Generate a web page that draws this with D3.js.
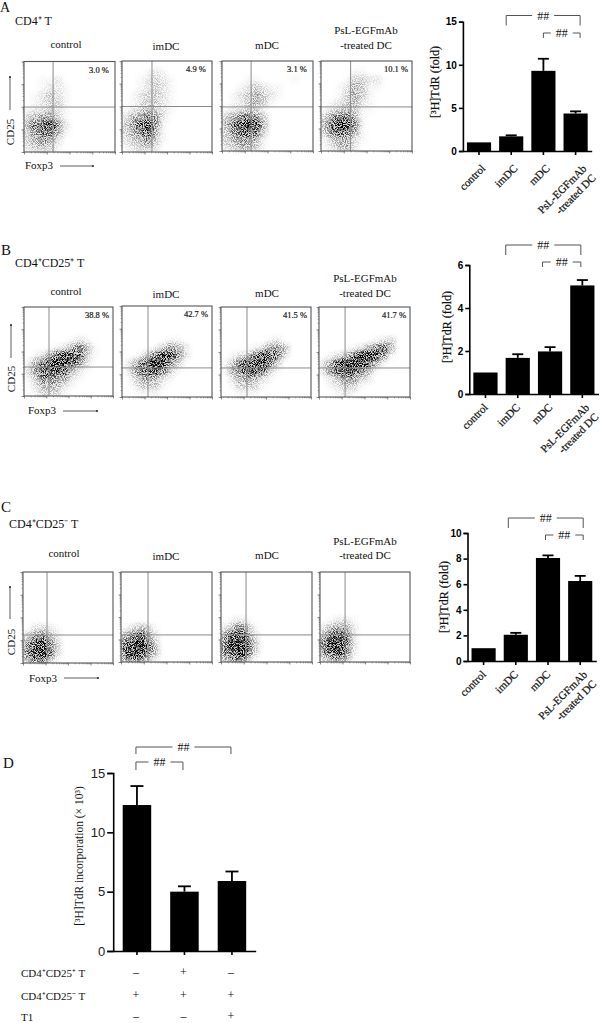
<!DOCTYPE html>
<html lang="en">

<head>
    <meta charset="UTF-8">
    <title>CD4 T cell flow plots and proliferation</title>
    <style>
        body {
            margin: 0;
            background: #fff;
        }

        text {
            font-family: "Liberation Serif", serif;
            fill: #111;
        }

        .bar-axis path,
        .bar-axis line {
            stroke: #000;
            stroke-width: 1.6px;
        }

        .bar-axis text {
            font-family: "Liberation Sans", sans-serif;
            font-weight: bold;
            font-size: 10px;
            fill: #000;
        }

        .bar-axis-x text {
            font-family: "Liberation Serif", serif;
            font-weight: normal;
            font-size: 11px;
            fill: #111;
            stroke: #111;
            stroke-width: 0.2px;
        }

        .big-axis text {
            font-weight: normal;
            font-size: 13px;
            fill: #222;
        }

        .flow-axis path {
            display: none;
        }

        .flow-axis line {
            stroke: #666;
            stroke-width: 0.7px;
        }

        .bracket {
            fill: none;
            stroke: #555;
            stroke-width: 1px;
        }
    </style>
</head>

<body>
    <svg id="chart" width="600" height="1023"></svg>
    <script src="https://d3js.org/d3.v7.min.js"></script>
    <script>
        // bar chart values
        const dcGroups = ["control", "imDC", "mDC", "PsL"];
        const aMeans = [1.0, 1.7, 9.3, 4.35];
        const aTops = [1.0, 1.82, 10.7, 4.6];
        const bMeans = [1.0, 1.68, 1.98, 5.05];
        const bTops = [1.0, 1.85, 2.18, 5.3];
        const cMeans = [1.0, 2.05, 8.05, 6.25];
        const cTops = [1.0, 2.2, 8.25, 6.65];
        const dGroups = ["first", "second", "third"];
        const dMeans = [12.3, 5.0, 5.9];
        const dTops = [13.9, 5.45, 6.7];

        const row1Sign = ["–", "+", "–"];
        const row2Sign = ["+", "+", "+"];
        const row3Sign = ["–", "–", "+"];

        // percent in the upper right gate of each plot
        const aPercents = ["3.0 %", "4.9 %", "3.1 %", "10.1 %"];
        const bPercents = ["38.8 %", "42.7 %", "41.5 %", "41.7 %"];

        // gate positions in fluorescence units (log axes, 1 to 10000)
        const aGateX = [19, 21.5, 19, 20];
        const aGateY = [97, 100, 91, 91];
        const bGateX = [13.3, 14.3, 14.3, 14];
        const bGateY = [20, 19, 19.5, 19.5];
        const cGateX = [11.7, 15.4, 12.6, 13];
        const cGateY = [17, 16, 16, 16];

        // event density of each dot plot, 12 x 12 cells, top row first, 0 to 9
        const aControlDensity = ["000000000000", "000000000000", "001120000000", "001221000000", "012321000000", "012331000000", "122321000000", "345531000000", "467852000000", "356641000000", "345420000000", "233310000000"];
        const aImDensity = ["000000000000", "000121000000", "001232100000", "001232100000", "012332100000", "012332100000", "123432100000", "245652000000", "357851000000", "346741000000", "234531000000", "123320000000"];
        const aMDensity = ["000000000000", "000000000000", "000110000100", "001232110000", "012343210000", "012343100000", "122331000000", "346653000000", "468984000000", "357763000000", "345541000000", "234431000000"];
        const aPslDensity = ["000000000000", "000011000000", "000133220000", "001243110000", "001343100000", "012342100000", "123431100000", "356641000000", "479851000000", "367641000000", "134421000000", "124420000000"];

        const bControlDensity = ["000000000000", "000000000000", "000000000000", "000000000000", "000000121000", "000012464100", "012478873100", "146899752000", "257887421000", "136655210000", "024442100000", "013331000000"];
        const bImDensity = ["000000000000", "000000000000", "000000000000", "000000000000", "000000110000", "000013542000", "001368852000", "136899530000", "146786310000", "024542100000", "013331000000", "001110000000"];
        const bMDensity = ["000000000000", "000000000000", "000000000000", "000000000000", "000000120000", "000012554000", "012368862000", "136899630000", "146787310000", "024542100000", "013331000000", "001110000000"];
        const bPslDensity = ["000000000000", "000000000000", "000000000000", "000000000000", "000000012300", "000012467400", "012369985100", "248999741000", "257886410000", "024553200000", "012331000000", "001210000000"];

        const cControlDensity = ["000000000000", "000000000000", "000000000000", "000000000000", "000000000000", "000000000000", "000000000000", "023210000000", "356420000000", "579630000000", "689730000000", "467410000000"];
        const cImDensity = ["000000000000", "000000000000", "000000000000", "000000000000", "000000000000", "000000000000", "000000000000", "124310000000", "467520000000", "689730000000", "799740000000", "577420000000"];
        const cMDensity = ["000000000000", "000000000000", "000000000000", "000000000000", "000000000000", "000000000000", "012100000000", "246410000000", "578520000000", "699730000000", "689730000000", "467410000000"];
        const cPslDensity = ["000000000000", "000000000000", "000000000000", "000000000000", "000000000000", "000000000000", "012210000000", "245420000000", "478620000000", "699720000000", "689620000000", "356410000000"];

        const svg = d3.select("#chart");
        const defs = svg.append("defs");

        // speckle: light wash of the density plus noise scaled by the density
        function addGrain(id, seed) {
            const f = defs.append("filter").attr("id", id)
                .attr("x", "-10%").attr("y", "-10%").attr("width", "120%").attr("height", "120%")
                .attr("color-interpolation-filters", "sRGB");
            f.append("feGaussianBlur").attr("in", "SourceAlpha").attr("stdDeviation", 2.4).attr("result", "density");
            f.append("feTurbulence").attr("type", "fractalNoise").attr("baseFrequency", 1.1)
                .attr("numOctaves", 1).attr("seed", seed).attr("result", "noise");
            f.append("feColorMatrix").attr("in", "noise").attr("type", "matrix")
                .attr("values", "0 0 0 0 0  0 0 0 0 0  0 0 0 0 0  3.6 0 0 0 -1.4").attr("result", "noiseAlpha");
            f.append("feComposite").attr("in", "density").attr("in2", "noiseAlpha").attr("operator", "arithmetic")
                .attr("k1", 1.5).attr("k2", 0.2).attr("k3", 0).attr("k4", 0).attr("result", "dots");
            f.append("feGaussianBlur").attr("in", "dots").attr("stdDeviation", 0.3);
        }

        let panelCount = 0;

        function flowPlot(box, density, gateX, gateY, percent) {
            panelCount++;
            const id = "p" + panelCount;
            const x = d3.scaleLog().domain([1, 10000]).range([box.x0, box.x1]);
            const y = d3.scaleLog().domain([1, 10000]).range([box.y1, box.y0]);
            const colBand = d3.scaleBand().domain(d3.range(12)).range([box.x0, box.x1]);
            const rowBand = d3.scaleBand().domain(d3.range(12)).range([box.y0, box.y1]);
            const shade = d3.scalePow().exponent(1.5).domain([0, 9]).range([0, 1]);

            defs.append("clipPath").attr("id", "clip-" + id).append("rect")
                .attr("x", box.x0).attr("y", box.y0)
                .attr("width", box.x1 - box.x0).attr("height", box.y1 - box.y0);
            addGrain("grain-" + id, panelCount * 7);

            const cells = density.flatMap((row, r) => row.split("").map((v, c) => ({ r: r, c: c, v: +v })));
            svg.append("g").attr("clip-path", "url(#clip-" + id + ")")
                .append("g").attr("filter", "url(#grain-" + id + ")")
                .selectAll("rect").data(cells).enter().append("rect")
                .attr("x", d => colBand(d.c))
                .attr("y", d => rowBand(d.r))
                .attr("width", colBand.bandwidth())
                .attr("height", rowBand.bandwidth())
                .attr("fill", "#000")
                .attr("fill-opacity", d => shade(d.v));

            const gate = svg.append("g").attr("stroke", "#8a8a8a").attr("stroke-width", 1);
            gate.append("line").attr("x1", x(gateX)).attr("x2", x(gateX)).attr("y1", box.y0).attr("y2", box.y1);
            gate.append("line").attr("x1", box.x0).attr("x2", box.x1).attr("y1", y(gateY)).attr("y2", y(gateY));

            svg.append("rect")
                .attr("x", box.x0).attr("y", box.y0)
                .attr("width", box.x1 - box.x0).attr("height", box.y1 - box.y0)
                .attr("fill", "none").attr("stroke", "#555").attr("stroke-width", 1.1);

            // log ticks, long on the decades and short between them
            const decades = [1, 10, 100, 1000, 10000];
            [[decades, 2.5], [x.ticks(), 1.3]].forEach(t => {
                svg.append("g").attr("class", "flow-axis")
                    .attr("transform", "translate(0," + box.y1 + ")")
                    .call(d3.axisBottom(x).tickValues(t[0]).tickSize(t[1]).tickFormat(""));
                svg.append("g").attr("class", "flow-axis")
                    .attr("transform", "translate(" + box.x0 + ",0)")
                    .call(d3.axisLeft(y).tickValues(t[0]).tickSize(t[1]).tickFormat(""));
            });

            if (percent) {
                svg.append("text").attr("x", box.x1 - 16).attr("y", box.y0 + 11)
                    .attr("text-anchor", "middle").style("font-size", "8.5px").style("stroke", "#222")
                    .style("stroke-width", 0.2).text(percent);
            }
        }

        function flowTitles(columns, y, yTop) {
            ["control", "imDC", "mDC", "-treated DC"].forEach((t, i) => {
                svg.append("text").attr("x", columns[i]).attr("y", y[i]).attr("text-anchor", "middle")
                    .style("font-size", "11px").text(t);
            });
            svg.append("text").attr("x", columns[3]).attr("y", yTop).attr("text-anchor", "middle")
                .style("font-size", "11px").text("PsL-EGFmAb");
        }

        function arrow(x1, y1, x2, y2) {
            svg.append("line").attr("x1", x1).attr("y1", y1).attr("x2", x2).attr("y2", y2)
                .attr("stroke", "#333").attr("stroke-width", 0.8);
            svg.append("circle").attr("cx", x2).attr("cy", y2).attr("r", 0.9).attr("fill", "#111");
        }

        function axisNames(cd25x, cd25y, foxX, foxY) {
            svg.append("text").attr("transform", "translate(" + cd25x + "," + cd25y + ") rotate(-90)")
                .attr("text-anchor", "middle").style("font-size", "11px").text("CD25");
            svg.append("text").attr("x", foxX).attr("y", foxY).style("font-size", "11px").text("Foxp3");
        }

        function label(x, y, t, size) {
            svg.append("text").attr("x", x).attr("y", y).style("font-size", size + "px").text(t);
        }

        function barChart(o) {
            const x = d3.scaleBand().domain(o.groups).range(o.xRange).paddingInner(o.pad).paddingOuter(o.pad / 2);
            const y = d3.scaleLinear().domain([0, o.max]).range(o.yRange);
            const g = svg.append("g");
            const center = k => x(k) + x.bandwidth() / 2;

            g.selectAll(".err").data(o.groups).enter().append("line")
                .attr("x1", center).attr("x2", center)
                .attr("y1", (d, i) => y(o.means[i])).attr("y2", (d, i) => y(o.tops[i]))
                .attr("stroke", "#000").attr("stroke-width", 1.8);
            g.selectAll(".cap").data(o.groups.filter((d, i) => o.tops[i] > o.means[i])).enter().append("line")
                .attr("x1", d => center(d) - o.cap).attr("x2", d => center(d) + o.cap)
                .attr("y1", d => y(o.tops[o.groups.indexOf(d)])).attr("y2", d => y(o.tops[o.groups.indexOf(d)]))
                .attr("stroke", "#000").attr("stroke-width", 1.8);
            g.selectAll(".bar").data(o.groups).enter().append("rect")
                .attr("x", d => x(d))
                .attr("y", (d, i) => y(o.means[i]))
                .attr("width", x.bandwidth())
                .attr("height", (d, i) => y(0) - y(o.means[i]))
                .attr("fill", "#000");

            g.append("g").attr("class", "bar-axis" + (o.big ? " big-axis" : ""))
                .attr("transform", "translate(" + o.xRange[0] + ",0)")
                .call(d3.axisLeft(y).tickValues(o.ticks).tickSize(o.big ? 6 : 4).tickPadding(2).tickFormat(d3.format("d")));

            const xAxis = g.append("g").attr("class", "bar-axis bar-axis-x")
                .attr("transform", "translate(0," + y(0) + ")")
                .call(d3.axisBottom(x).tickSize(4).tickSizeOuter(0).tickFormat(""));

            if (o.labels) {
                xAxis.selectAll(".tick text")
                    .data(o.labels)
                    .attr("text-anchor", "end")
                    .attr("transform", "translate(" + (7 + o.shift[0]) + "," + (18 + o.shift[1]) + ") rotate(-45)")
                    .attr("y", 0).attr("dy", 0)
                    .each(function (d) {
                        const t = d3.select(this);
                        d.forEach((line, i) => {
                            const lineDy = d.length > 1 ? (i ? 13 : 3.5) : 0;
                            t.append("tspan").attr("x", d.length > 1 ? 3 : 0).attr("dy", lineDy).text(line);
                        });
                    });
            }

            svg.append("text").attr("transform", "translate(" + o.nameX + "," + o.nameY + ") rotate(-90)")
                .attr("text-anchor", "middle").style("font-size", o.nameSize + "px")
                .style("stroke", "#111").style("stroke-width", o.big ? 0 : 0.2).text(o.name);

            // significance brackets
            o.brackets.forEach(b => {
                const x0 = center(b.from) + b.dx0;
                const x1 = center(b.to) + b.dx1;
                const mid = (x0 + x1) / 2;
                const path = d3.path();
                path.moveTo(x0, b.y + b.drop);
                path.lineTo(x0, b.y);
                path.lineTo(mid - 11, b.y);
                path.moveTo(mid + 11, b.y);
                path.lineTo(x1, b.y);
                path.lineTo(x1, b.y + b.drop);
                svg.append("path").attr("class", "bracket").attr("d", path.toString());
                svg.append("text").attr("x", mid).attr("y", b.y + 4).attr("text-anchor", "middle")
                    .style("font-size", "12px").text("##");
            });
            return center;
        }

        const dcLabels = [["control"], ["imDC"], ["mDC"], ["PsL-EGFmAb", "-treated DC"]];

        // panel A
        label(0, 12, "A", 14);
        label(15, 25, "CD4⁺ T", 12);
        flowTitles([66, 166, 267, 366], [48, 50, 49, 49], 34);
        [[24, 115, 61.5, 152, aControlDensity], [122, 212, 61, 152, aImDensity], [222, 313, 61, 151, aMDensity], [321, 412, 61, 151, aPslDensity]]
            .forEach((p, i) => flowPlot({ x0: p[0], x1: p[1], y0: p[2], y1: p[3] }, p[4], aGateX[i], aGateY[i], aPercents[i]));
        axisNames(14, 132, 25, 169);
        arrow(10, 110, 10, 77);
        arrow(60, 166, 93, 166);
        barChart({
            groups: dcGroups, means: aMeans, tops: aTops, max: 15, ticks: [0, 5, 10, 15],
            xRange: [462.9, 591.7], yRange: [151, 21.7], pad: 0.25, cap: 5.5, labels: dcLabels, shift: [0, 0],
            name: "[³H]TdR (fold)", nameX: 439, nameY: 82, nameSize: 12,
            brackets: [
                { from: "imDC", to: "PsL", dx0: -5, dx1: 4.5, y: 15.5, drop: 10 },
                { from: "mDC", to: "PsL", dx0: 0, dx1: 4.5, y: 33, drop: 5 }
            ]
        });

        // panel B
        label(1, 255, "B", 15);
        label(15, 267, "CD4⁺CD25⁺ T", 12);
        flowTitles([66, 166, 267, 365], [295, 298, 297, 297], 282);
        [[24, 113, 307, 396, bControlDensity], [122, 212, 306, 397, bImDensity], [221, 311, 307, 397, bMDensity], [319, 410, 307, 397, bPslDensity]]
            .forEach((p, i) => flowPlot({ x0: p[0], x1: p[1], y0: p[2], y1: p[3] }, p[4], bGateX[i], bGateY[i], bPercents[i]));
        axisNames(15, 379, 28, 414);
        arrow(11, 358, 11, 325);
        arrow(63, 411, 97, 411);
        barChart({
            groups: dcGroups, means: bMeans, tops: bTops, max: 6, ticks: [0, 2, 4, 6],
            xRange: [469.3, 598.5], yRange: [394, 265], pad: 0.25, cap: 5.5, labels: dcLabels, shift: [-4, -4],
            name: "[³H]TdR (fold)", nameX: 451, nameY: 327, nameSize: 12,
            brackets: [
                { from: "imDC", to: "PsL", dx0: -12, dx1: -1.5, y: 245, drop: 10 },
                { from: "mDC", to: "PsL", dx0: -7.5, dx1: -1.5, y: 262, drop: 5 }
            ]
        });

        // panel C
        label(1, 512, "C", 15);
        label(9, 528, "CD4⁺CD25⁻ T", 12);
        flowTitles([64, 166, 267, 365], [557, 560, 559, 559], 545);
        [[23, 113, 572, 663, cControlDensity], [121, 212, 572, 662, cImDensity], [221, 312, 572, 662, cMDensity], [320, 410, 572, 662, cPslDensity]]
            .forEach((p, i) => flowPlot({ x0: p[0], x1: p[1], y0: p[2], y1: p[3] }, p[4], cGateX[i], cGateY[i], null));
        axisNames(15, 642, 29, 682);
        arrow(10, 619, 10, 587);
        arrow(64, 678, 98, 678);
        barChart({
            groups: dcGroups, means: cMeans, tops: cTops, max: 10, ticks: [0, 2, 4, 6, 8, 10],
            xRange: [467.5, 596.3], yRange: [661, 533], pad: 0.25, cap: 5.5, labels: dcLabels, shift: [-4, -4],
            name: "[³H]TdR (fold)", nameX: 448, nameY: 597, nameSize: 12,
            brackets: [
                { from: "imDC", to: "PsL", dx0: -7.5, dx1: 3, y: 518, drop: 10 },
                { from: "mDC", to: "PsL", dx0: -2.5, dx1: 3, y: 535, drop: 5 }
            ]
        });

        // panel D
        label(3, 768, "D", 15);
        const dCenter = barChart({
            groups: dGroups, means: dMeans, tops: dTops, max: 15, ticks: [0, 5, 10, 15], big: true,
            xRange: [113.2, 255.7], yRange: [951, 773], pad: 0.4, cap: 6.5,
            name: "[³H]TdR incorporation (× 10³)", nameX: 83, nameY: 856, nameSize: 11.5,
            brackets: [
                { from: "first", to: "third", dx0: -1, dx1: -1, y: 747, drop: 7 },
                { from: "first", to: "second", dx0: -1, dx1: -1.5, y: 762, drop: 8 }
            ]
        });

        [["CD4⁺CD25⁺ T", row1Sign, 977], ["CD4⁺CD25⁻ T", row2Sign, 1000], ["T1", row3Sign, 1021]].forEach(r => {
            label(21, r[2], r[0], 11);
            r[1].forEach((s, i) => {
                svg.append("text").attr("x", dCenter(dGroups[i]) - 1).attr("y", r[2] - 1)
                    .attr("text-anchor", "middle").style("font-size", "12px").text(s);
            });
        });
    </script>
</body>

</html>
